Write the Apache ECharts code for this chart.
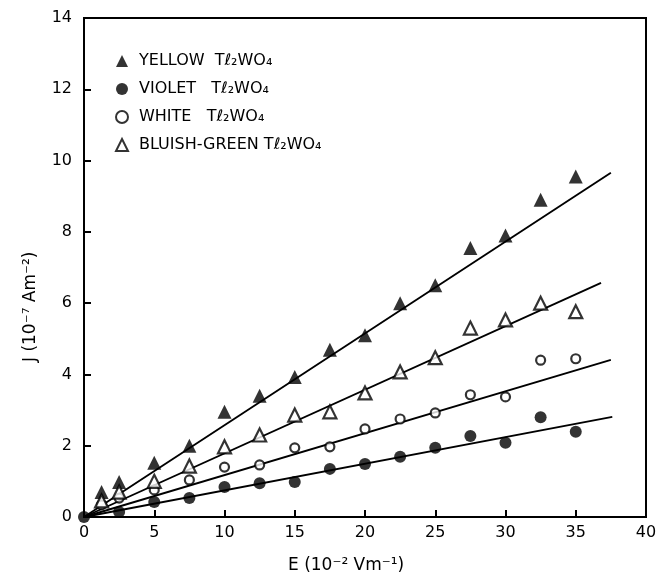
<!DOCTYPE html>
<html>
<head>
<meta charset="utf-8">
<script src="https://cdn.jsdelivr.net/npm/echarts@6/dist/echarts.min.js"></script>
<style>html,body{margin:0;padding:0;background:#fff}#c{width:660px;height:578px}</style>
</head>
<body>
<div id="c"></div>
<script>
// E (10^-2 V m^-1)
const xValues = [1.25, 2.5, 5, 7.5, 10, 12.5, 15, 17.5, 20, 22.5, 25, 27.5, 30, 32.5, 35];
// J (10^-7 A m^-2)
const yellow = [0.7, 0.98, 1.52, 2.0, 2.95, 3.4, 3.93, 4.69, 5.1, 6.0, 6.5, 7.55, 7.9, 8.9, 9.55];
const violet = [null, 0.14, 0.42, 0.53, 0.84, 0.95, 0.98, 1.35, 1.49, 1.69, 1.94, 2.27, 2.08, 2.8, 2.39];
const white = [0.34, 0.53, 0.76, 1.04, 1.4, 1.46, 1.94, 1.97, 2.47, 2.75, 2.92, 3.43, 3.37, 4.4, 4.44];
const bluish = [0.45, 0.7, 1.0, 1.43, 1.97, 2.3, 2.86, 2.95, 3.48, 4.07, 4.47, 5.3, 5.53, 6.0, 5.76];
// fitted lines: [start, end]
const fitYellow = [[0, 0], [37.5, 9.66]];
const fitBluish = [[0, 0], [36.8, 6.57]];
const fitWhite = [[0, 0], [37.5, 4.41]];
const fitViolet = [[0, 0], [37.6, 2.81]];
const names = ['YELLOW  Tℓ₂WO₄', 'VIOLET   Tℓ₂WO₄', 'WHITE   Tℓ₂WO₄', 'BLUISH-GREEN Tℓ₂WO₄'];

const pairs = arr => xValues.map((x, i) => [x, arr[i]]).filter(p => p[1] != null);
const font = 'DejaVu Sans';

const chart = echarts.init(document.getElementById('c'), null, {renderer: 'canvas'});
function lineSeries(d) {
  return {type: 'line', data: d, symbol: 'none', silent: true,
    lineStyle: {color: '#000', width: 1.9}, z: 1};
}
chart.setOption({
  animation: false,
  backgroundColor: '#fff',
  grid: {left: 84, right: 14, top: 18, bottom: 61, show: true, borderColor: '#000', borderWidth: 2},
  legend: {
    orient: 'vertical', left: 110, top: 48, itemGap: 12, itemWidth: 12, itemHeight: 12,
    data: names,
    textStyle: {fontFamily: font, fontSize: 16, color: '#000', padding: [0, 0, 0, 6]}
  },
  xAxis: {
    type: 'value', min: 0, max: 40, interval: 5,
    axisLine: {lineStyle: {color: '#000', width: 2}},
    axisTick: {inside: true, length: 7, lineStyle: {color: '#000', width: 2}},
    axisLabel: {color: '#000', fontFamily: font, fontSize: 16, margin: 8},
    splitLine: {show: false}
  },
  yAxis: {
    type: 'value', min: 0, max: 14, interval: 2,
    axisLine: {lineStyle: {color: '#000', width: 2}},
    axisTick: {inside: true, length: 7, lineStyle: {color: '#000', width: 2}},
    axisLabel: {color: '#000', fontFamily: font, fontSize: 16, margin: 12},
    splitLine: {show: false}
  },
  graphic: [
    {type: 'text', left: 288, top: 557,
      style: {text: 'E (10⁻² Vm⁻¹)', font: '17px "DejaVu Sans"', fill: '#000'}},
    {type: 'text', x: 22, y: 362, rotation: Math.PI / 2,
      style: {text: 'J (10⁻⁷ Am⁻²)', font: '17px "DejaVu Sans"', fill: '#000'}}
  ],
  series: [
    lineSeries(fitYellow), lineSeries(fitBluish), lineSeries(fitWhite), lineSeries(fitViolet),
    {name: names[0], type: 'scatter', data: pairs(yellow), symbol: 'triangle', symbolSize: 14,
      itemStyle: {color: '#000'}, z: 3},
    {name: names[1], type: 'scatter', data: [[0, 0]].concat(pairs(violet)), symbol: 'circle', symbolSize: 12,
      itemStyle: {color: '#000'}, z: 3},
    {name: names[2], type: 'scatter', data: pairs(white), symbol: 'circle', symbolSize: 9,
      itemStyle: {color: '#fff', borderColor: '#000', borderWidth: 2.2}, z: 3},
    {name: names[3], type: 'scatter', data: pairs(bluish), symbol: 'triangle', symbolSize: 13,
      itemStyle: {color: '#fff', borderColor: '#000', borderWidth: 2.2}, z: 3}
  ]
});
</script>
</body>
</html>
